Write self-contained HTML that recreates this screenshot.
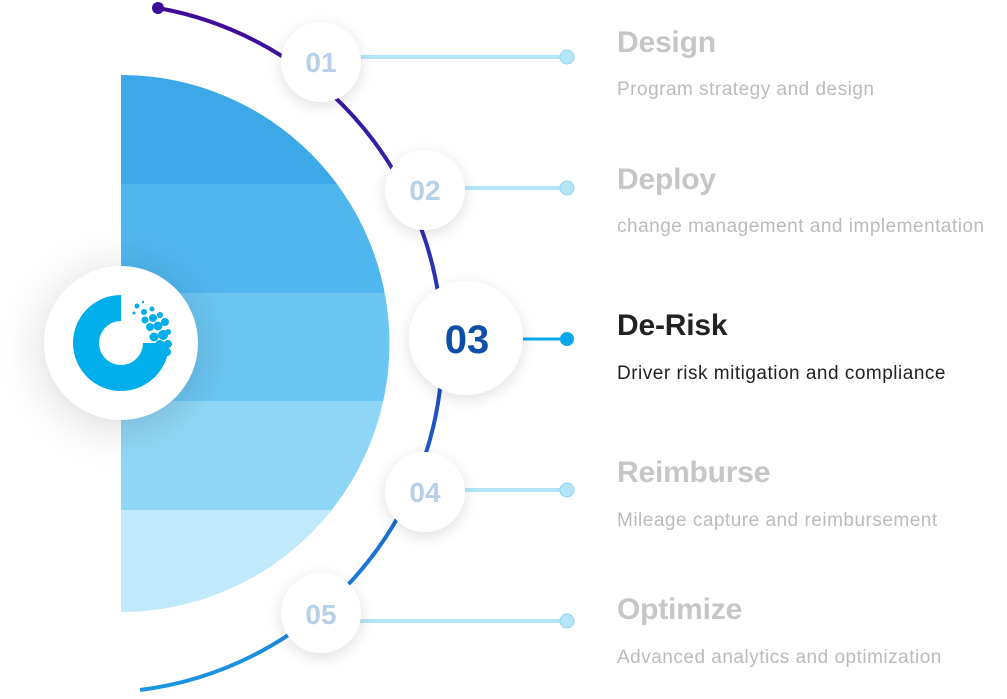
<!DOCTYPE html>
<html><head><meta charset="utf-8"><style>
html,body{margin:0;padding:0;background:#fff;width:1007px;height:699px;overflow:hidden;font-family:"Liberation Sans",sans-serif}
.t{position:absolute;left:617px;font-weight:bold;font-size:30px;color:#c6c6c6;letter-spacing:-0.2px}
.s{position:absolute;left:617px;font-size:19px;color:#bbbbbb;letter-spacing:0.5px}
</style></head><body>
<svg width="1007" height="699" style="position:absolute;left:0;top:0">
<defs>
<linearGradient id="ag" x1="0" y1="0" x2="0" y2="1" gradientUnits="objectBoundingBox">
<stop offset="0" stop-color="#3f0a98"/><stop offset="0.5" stop-color="#2340b8"/><stop offset="1" stop-color="#1a96e2"/>
</linearGradient>
<clipPath id="hc"><path d="M121 75 A268 268 0 0 1 121 612 Z"/></clipPath>
<filter id="sh" x="-50%" y="-50%" width="200%" height="200%"><feDropShadow dx="0" dy="4" stdDeviation="7" flood-color="#000" flood-opacity="0.12"/></filter>
<filter id="sh2" x="-80%" y="-80%" width="260%" height="260%"><feDropShadow dx="0" dy="6" stdDeviation="22" flood-color="#000" flood-opacity="0.16"/></filter>
</defs>
<g clip-path="url(#hc)">
<rect x="121" y="75" width="300" height="109" fill="#3da8e8"/>
<rect x="121" y="184" width="300" height="109" fill="#50b6ee"/>
<rect x="121" y="293" width="300" height="108" fill="#6bc6f2"/>
<rect x="121" y="401" width="300" height="109" fill="#8fd6f6"/>
<rect x="121" y="510" width="300" height="102" fill="#c0e9fb"/>
</g>
<path d="M158 8 A345 345 0 0 1 140 690" fill="none" stroke="url(#ag)" stroke-width="4"/>
<circle cx="158" cy="8" r="6" fill="#3f0a98"/>
<g stroke="#b3e4f8" stroke-width="4">
<line x1="340" y1="57" x2="567" y2="57"/><line x1="445" y1="188" x2="567" y2="188"/>
<line x1="445" y1="490" x2="567" y2="490"/><line x1="340" y1="621" x2="567" y2="621"/>
</g>
<g fill="#b3e4f8" stroke="#8fd4f4" stroke-width="1">
<circle cx="567" cy="57" r="7"/><circle cx="567" cy="188" r="7"/><circle cx="567" cy="490" r="7"/><circle cx="567" cy="621" r="7"/>
</g>
<line x1="500" y1="339" x2="567" y2="339" stroke="#0aa8ea" stroke-width="3"/>
<circle cx="567" cy="339" r="7" fill="#0aa8ea"/>
<g fill="#fff" filter="url(#sh)">
<circle cx="321" cy="62" r="40"/><circle cx="425" cy="190" r="40"/><circle cx="466" cy="338" r="57"/>
<circle cx="425" cy="492" r="40"/><circle cx="321" cy="613" r="40"/>
</g>
<g font-family="Liberation Sans,sans-serif" font-weight="bold" font-size="28" fill="#b8cfea" text-anchor="middle">
<text x="321" y="72">01</text><text x="425" y="200">02</text><text x="425" y="502">04</text><text x="321" y="624">05</text>
<text x="467" y="353" font-size="40" fill="#0d4fa8">03</text>
</g>
<circle cx="121" cy="343" r="77" fill="#fff" filter="url(#sh2)"/>
<path d="M121 295 A48 48 0 1 0 169 343 L143 343 A22 22 0 1 1 121 321 Z" fill="#00aeec"/>
<g fill="#00aeec">
<circle cx="137" cy="306" r="2.5"/><circle cx="144" cy="312" r="3"/><circle cx="152" cy="309" r="2.5"/>
<circle cx="145" cy="320" r="3.5"/><circle cx="153" cy="318" r="4"/><circle cx="160" cy="315" r="3"/>
<circle cx="150" cy="327" r="4"/><circle cx="158" cy="326" r="4.5"/><circle cx="165" cy="322" r="4"/>
<circle cx="154" cy="337" r="4.5"/><circle cx="163" cy="335" r="5"/><circle cx="168" cy="332" r="3"/>
<circle cx="160" cy="345" r="5"/><circle cx="168" cy="344" r="4"/><circle cx="167" cy="352" r="4"/>
<circle cx="134" cy="313" r="1.5"/><circle cx="143" cy="302" r="1.2"/>
</g>
</svg>
<div class="t" style="top:26px">Design</div>
<div class="s" style="top:79px">Program strategy and design</div>
<div class="t" style="top:163px">Deploy</div>
<div class="s" style="top:216px">change management and implementation</div>
<div class="t" style="top:309px;color:#222">De-Risk</div>
<div class="s" style="top:363px;color:#222">Driver risk mitigation and compliance</div>
<div class="t" style="top:456px">Reimburse</div>
<div class="s" style="top:510px">Mileage capture and reimbursement</div>
<div class="t" style="top:593px">Optimize</div>
<div class="s" style="top:647px">Advanced analytics and optimization</div>
</body></html>
